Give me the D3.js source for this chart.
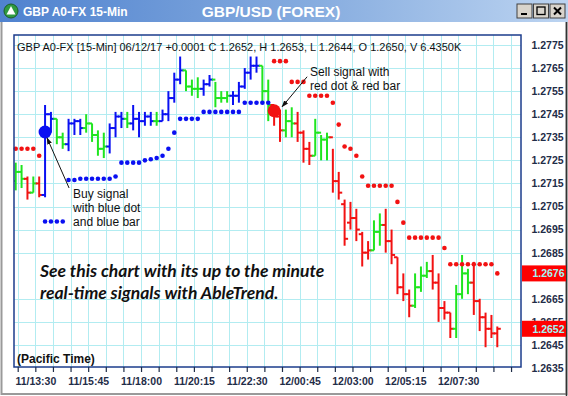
<!DOCTYPE html>
<html>
<head>
<meta charset="utf-8">
<script src="https://cdn.jsdelivr.net/npm/d3@7"></script>
<style>
  body { margin: 0; background: #fff; }
  svg { display: block; }
</style>
</head>
<body>
<div id="chart"></div>
<script>
// 15-min bars, index 0 = 11/12:45 (Pacific time)
const opens  = [1.2716,1.2720,1.2717,1.2711,1.2715,1.2710,1.2745,1.2743,1.2735,1.2732,
                1.2741,1.2742,1.2739,1.2741,1.2736,1.2730,1.2731,1.2739,1.2744,1.2743,
                1.2741,1.2743,1.2742,1.2744,1.2742,1.2742,1.2745,1.2752,1.2760,1.2764,
                1.2757,1.2756,1.2756,1.2758,1.2760,1.2752,1.2752,1.2753,1.2753,1.2757,
                1.2763,1.2766,1.2766,1.2755,1.2749,1.2744,1.2738,1.2742,1.2741,1.2737,
                1.2730,1.2727,1.2737,1.2734,1.2735,1.2716,1.2706,1.2698,1.2700,1.2693,
                1.2685,1.2686,1.2694,1.2697,1.2690,1.2683,1.2670,1.2667,1.2662,1.2670,
                1.2675,1.2677,1.2672,1.2661,1.2659,1.2652,1.2667,1.2676,1.2672,1.2664,
                1.2657,1.2652,1.2650];
const highs  = [1.2724,1.2723,1.2718,1.2718,1.2718,1.2749,1.2746,1.2743,1.2737,1.2743,
                1.2743,1.2743,1.2745,1.2741,1.2738,1.2737,1.2741,1.2746,1.2746,1.2746,
                1.2749,1.2746,1.2746,1.2746,1.2746,1.2747,1.2755,1.2763,1.2770,1.2764,
                1.2760,1.2761,1.2760,1.2762,1.2759,1.2755,1.2755,1.2755,1.2759,1.2765,
                1.2770,1.2770,1.2766,1.2760,1.2747,1.2747,1.2747,1.2748,1.2746,1.2738,
                1.2733,1.2743,1.2736,1.2737,1.2730,1.2720,1.2708,1.2707,1.2704,1.2694,
                1.2690,1.2699,1.2702,1.2704,1.2695,1.2683,1.2676,1.2669,1.2676,1.2679,
                1.2681,1.2684,1.2676,1.2664,1.2659,1.2671,1.2684,1.2678,1.2681,1.2665,
                1.2659,1.2658,1.2653];
const lows   = [1.2712,1.2713,1.2708,1.2711,1.2709,1.2709,1.2737,1.2732,1.2730,1.2729,
                1.2736,1.2736,1.2737,1.2733,1.2727,1.2726,1.2728,1.2735,1.2739,1.2739,
                1.2738,1.2735,1.2740,1.2740,1.2740,1.2742,1.2742,1.2750,1.2758,1.2755,
                1.2753,1.2752,1.2753,1.2757,1.2748,1.2750,1.2750,1.2749,1.2750,1.2756,
                1.2760,1.2763,1.2750,1.2742,1.2740,1.2733,1.2735,1.2735,1.2733,1.2724,
                1.2723,1.2727,1.2725,1.2725,1.2711,1.2708,1.2688,1.2695,1.2690,1.2679,
                1.2682,1.2686,1.2688,1.2685,1.2680,1.2667,1.2664,1.2657,1.2661,1.2668,
                1.2674,1.2669,1.2655,1.2656,1.2648,1.2648,1.2665,1.2667,1.2658,1.2651,
                1.2644,1.2648,1.2644];
const closes = [1.2720,1.2717,1.2711,1.2715,1.2710,1.2745,1.2743,1.2735,1.2732,1.2741,
                1.2742,1.2739,1.2741,1.2736,1.2730,1.2731,1.2739,1.2744,1.2743,1.2741,
                1.2743,1.2742,1.2744,1.2742,1.2742,1.2745,1.2752,1.2760,1.2764,1.2757,
                1.2756,1.2756,1.2758,1.2760,1.2752,1.2752,1.2753,1.2753,1.2757,1.2763,
                1.2766,1.2766,1.2755,1.2749,1.2744,1.2738,1.2742,1.2741,1.2737,1.2730,
                1.2727,1.2737,1.2734,1.2735,1.2716,1.2711,1.2691,1.2700,1.2695,1.2685,
                1.2686,1.2694,1.2697,1.2690,1.2684,1.2670,1.2667,1.2662,1.2670,1.2675,
                1.2677,1.2672,1.2661,1.2659,1.2652,1.2667,1.2676,1.2672,1.2664,1.2657,
                1.2652,1.2650,1.2652];
// trend colour of each bar: B = up, R = down, G = neutral
const trend = "GGRGRBBGGBBBGGGGBBBGBBBBGBBBBGGGBBGGGBBBBBGGRRGGRRRGGGRRRRRRRGGRRRRRGGGRRRRGGGRRRRR";

// stop dots [bar index, price]
const upStops = [[9,1.27165],[10,1.27165],[11,1.2717],[12,1.2717],[13,1.2717],[14,1.2717],[15,1.2717],
  [16,1.2717],[17,1.2718],[18,1.2724],[19,1.2724],[20,1.2724],[21,1.2724],[22,1.2725],[23,1.27255],
  [24,1.2726],[25,1.2727],[26,1.2730],[27,1.2737],[28,1.2743],[29,1.2743],[30,1.2743],[31,1.2743],
  [32,1.2746],[33,1.2746],[34,1.2746],[35,1.2746],[36,1.2746],[37,1.2746],[38,1.2746],
  [39,1.2750],[40,1.2750],[41,1.2750],[42,1.2750],[43,1.2750]];
const downStops = [[0,1.2730],[1,1.2730],[2,1.2730],[3,1.2730],[4,1.2727],
  [44,1.2768],[45,1.2768],[46,1.2768],[47,1.2759],[48,1.2759],[49,1.2759],
  [50,1.2753],[51,1.2753],[52,1.2753],[53,1.2753],[54,1.2750],[55,1.27405],[56,1.2731],
  [57,1.2730],[58,1.2727],[59,1.2718],[60,1.2714],[61,1.2714],[62,1.2714],[63,1.2714],
  [64,1.2714],[65,1.2707],[66,1.2698],[67,1.26915],[68,1.26915],[69,1.26915],[70,1.26915],
  [71,1.26915],[72,1.26915],[73,1.2687],[74,1.2680],[75,1.2680],[76,1.2680],[77,1.2680],
  [78,1.2680],[79,1.2680],[80,1.2680],[81,1.2680],[82,1.2676]];
const buySignal = [5, 1.27373];
const sellSignal = [44, 1.27465];

const priceTicks = [1.2775,1.2765,1.2755,1.2745,1.2735,1.2725,1.2715,1.2705,1.2695,1.2685,
                    1.2665,1.2655,1.2645,1.2635];
const timeLabels = ["11/13:30","11/15:45","11/18:00","11/20:15","11/22:30",
                    "12/00:45","12/03:00","12/05:15","12/07:30"];

const width = 568, height = 396;
const plot = { left: 14, right: 521, top: 35, bottom: 367 };
const colors = { B: "#0a10f2", G: "#1fe51f", R: "#f21212" };
const font = "Arial, 'Liberation Sans', sans-serif";

const x = d3.scaleLinear().domain([0, 82]).range([15.7, 497.3]);
const y = d3.scaleLinear().domain([1.2775, 1.2635]).range([45, 368]);

const svg = d3.select("#chart").append("svg")
    .attr("width", width)
    .attr("height", height)
    .style("font-family", font);

const defs = svg.append("defs");
const grad = defs.append("linearGradient").attr("id", "titleGrad");
grad.append("stop").attr("offset", "0%").attr("stop-color", "#4f82cf");
grad.append("stop").attr("offset", "55%").attr("stop-color", "#86acdf");
grad.append("stop").attr("offset", "100%").attr("stop-color", "#bcd4f1");
defs.append("marker")
    .attr("id", "arrow")
    .attr("viewBox", "0 0 10 10")
    .attr("refX", 9).attr("refY", 5)
    .attr("markerWidth", 7).attr("markerHeight", 7)
    .attr("orient", "auto")
  .append("path")
    .attr("d", "M0,1.5 L10,5 L0,8.5 Z")
    .attr("fill", "#111");
defs.append("clipPath").attr("id", "plotClip")
  .append("rect")
    .attr("x", plot.left).attr("y", plot.top)
    .attr("width", plot.right - plot.left).attr("height", plot.bottom - plot.top);

// window frame
svg.append("rect").attr("width", width).attr("height", height).attr("fill", "#fff");
svg.append("rect").attr("x", 1.5).attr("y", 1).attr("width", width - 3).attr("height", height - 3)
    .attr("fill", "none").attr("stroke", "#9a9a9a").attr("stroke-width", 2);
svg.append("line").attr("x1", 566.5).attr("x2", 566.5).attr("y1", 22).attr("y2", 396)
    .attr("stroke", "#333").attr("stroke-width", 1.5);

// title bar
svg.append("rect").attr("x", 0).attr("y", 0).attr("width", width).attr("height", 22)
    .attr("fill", "url(#titleGrad)");
svg.append("circle").attr("cx", 11).attr("cy", 11).attr("r", 7)
    .attr("fill", "#2f9a40").attr("stroke", "#1d5e28");
svg.append("path").attr("d", "M11,6 L15.5,14.5 L6.5,14.5 Z").attr("fill", "#fff");
svg.append("text").attr("x", 23).attr("y", 15.5)
    .attr("font-size", 12).attr("font-weight", "bold").attr("fill", "#fff")
    .text("GBP A0-FX 15-Min");
svg.append("text").attr("x", 271).attr("y", 16.5).attr("text-anchor", "middle")
    .attr("font-size", 15.5).attr("font-weight", "bold").attr("fill", "#fff")
    .text("GBP/USD (FOREX)");

// window buttons
const btns = svg.append("g");
["min", "max", "close"].forEach((b, i) => {
  const bx = 517 + i * 16.5, by = 4;
  btns.append("rect").attr("x", bx).attr("y", by).attr("width", 15).attr("height", 14)
      .attr("fill", "#d8d4cc").attr("stroke", "#404040");
  if (b === "min") btns.append("rect").attr("x", bx + 4).attr("y", by + 9).attr("width", 6).attr("height", 2).attr("fill", "#000");
  if (b === "max") btns.append("rect").attr("x", bx + 3.5).attr("y", by + 3).attr("width", 8).attr("height", 7.5)
      .attr("fill", "none").attr("stroke", "#000").attr("stroke-width", 1.3);
  if (b === "close") btns.append("path").attr("d", `M${bx+4},${by+3.5} L${bx+11},${by+10.5} M${bx+11},${by+3.5} L${bx+4},${by+10.5}`)
      .attr("stroke", "#000").attr("stroke-width", 2);
});

// grid
const grid = svg.append("g").attr("clip-path", "url(#plotClip)")
    .attr("stroke", "#b2ecf1").attr("stroke-width", 1);
const gridIdx = d3.range(0, 85, 3);
grid.selectAll(".vg").data(gridIdx).join("line")
    .attr("x1", d => Math.round(x(d) + 2) + 0.5).attr("x2", d => Math.round(x(d) + 2) + 0.5)
    .attr("y1", plot.top).attr("y2", plot.bottom);
grid.selectAll(".hg").data(priceTicks).join("line")
    .attr("y1", d => Math.round(y(d)) + 0.5).attr("y2", d => Math.round(y(d)) + 0.5)
    .attr("x1", plot.left).attr("x2", plot.right);

// header line
svg.append("text").attr("x", 17).attr("y", 51)
    .attr("font-size", 11).attr("fill", "#111")
    .text("GBP A0-FX [15-Min] 06/12/17  +0.0001 C 1.2652, H 1.2653, L 1.2644, O 1.2650, V 6.4350K");

// bars
const bars = svg.append("g").attr("clip-path", "url(#plotClip)");
const barData = d3.range(opens.length).map(i => ({
  i, o: opens[i], h: highs[i], l: lows[i], c: closes[i], t: trend[i]
}));
const bg = bars.selectAll("g").data(barData).join("g")
    .attr("stroke", d => colors[d.t]).attr("stroke-width", 2);
bg.append("line")
    .attr("x1", d => x(d.i)).attr("x2", d => x(d.i))
    .attr("y1", d => y(d.h)).attr("y2", d => y(d.l));
bg.append("line")
    .attr("x1", d => x(d.i) - 3.5).attr("x2", d => x(d.i))
    .attr("y1", d => y(d.o)).attr("y2", d => y(d.o));
bg.append("line")
    .attr("x1", d => x(d.i)).attr("x2", d => x(d.i) + 3.5)
    .attr("y1", d => y(d.c)).attr("y2", d => y(d.c));

// stop dots
svg.append("g").attr("fill", colors.B).selectAll("circle").data(upStops).join("circle")
    .attr("cx", d => x(d[0])).attr("cy", d => y(d[1])).attr("r", 2.3);
svg.append("g").attr("fill", colors.R).selectAll("circle").data(downStops).join("circle")
    .attr("cx", d => x(d[0])).attr("cy", d => y(d[1])).attr("r", 2.3);

// signal dots
svg.append("circle").attr("cx", x(buySignal[0])).attr("cy", y(buySignal[1])).attr("r", 6.5)
    .attr("fill", colors.B);
svg.append("circle").attr("cx", x(sellSignal[0])).attr("cy", y(sellSignal[1])).attr("r", 6.5)
    .attr("fill", colors.R);

// annotations
const bx0 = x(buySignal[0]), by0 = y(buySignal[1]);
svg.append("line").attr("x1", bx0 + 24).attr("y1", by0 + 56).attr("x2", bx0 + 2).attr("y2", by0 + 6)
    .attr("stroke", "#111").attr("stroke-width", 1).attr("marker-end", "url(#arrow)");
const buyText = svg.append("text").attr("font-size", 12).attr("fill", "#111");
["Buy signal", "with blue dot", "and blue bar"].forEach((s, i) => {
  buyText.append("tspan").attr("x", bx0 + 28).attr("y", by0 + 66 + i * 14).text(s);
});
svg.append("g").attr("fill", colors.B).selectAll("circle").data(d3.range(4)).join("circle")
    .attr("cx", d => bx0 + d * 5.9).attr("cy", by0 + 89.5).attr("r", 2.3);

const sx0 = x(sellSignal[0]), sy0 = y(sellSignal[1]);
svg.append("line").attr("x1", sx0 + 33).attr("y1", sy0 - 34).attr("x2", sx0 + 8).attr("y2", sy0 - 4)
    .attr("stroke", "#111").attr("stroke-width", 1).attr("marker-end", "url(#arrow)");
const sellText = svg.append("text").attr("font-size", 12).attr("fill", "#111");
["Sell signal with", "red dot & red bar"].forEach((s, i) => {
  sellText.append("tspan").attr("x", sx0 + 36).attr("y", sy0 - 35 + i * 14).text(s);
});

// promo text
const promo = svg.append("text").attr("font-family", "Lato, 'Open Sans', sans-serif")
    .attr("font-size", 17.5).attr("font-style", "italic").attr("font-weight", "bold").attr("fill", "#111");
promo.append("tspan").attr("x", 40).attr("y", 277).text("See this chart with its up to the minute");
promo.append("tspan").attr("x", 40).attr("y", 299).text("real-time signals with AbleTrend.");

svg.append("text").attr("x", 17).attr("y", 362.5)
    .attr("font-size", 12).attr("font-weight", "bold").attr("fill", "#111")
    .text("(Pacific Time)");

// plot border
svg.append("rect").attr("x", plot.left).attr("y", plot.top)
    .attr("width", plot.right - plot.left).attr("height", plot.bottom - plot.top)
    .attr("fill", "none").attr("stroke", "#1b3c8c").attr("stroke-width", 1.5);

// price axis
const yAxis = d3.axisRight(y).tickValues(priceTicks).tickSize(0).tickPadding(10.5)
    .tickFormat(d3.format(".4f"));
const ya = svg.append("g").attr("transform", `translate(${plot.right},0)`).call(yAxis);
ya.select(".domain").remove();
ya.selectAll("text").attr("font-size", 10.5).attr("font-weight", "bold")
    .attr("fill", "#1f2d48").attr("font-family", font);

// last stop and last close markers
const lastStop = downStops[downStops.length - 1][1];
const lastClose = closes[closes.length - 1];
[lastStop, lastClose].forEach(v => {
  const g = svg.append("g").attr("transform", `translate(${plot.right + 1},${y(v)})`);
  g.append("rect").attr("x", 0).attr("y", -8).attr("width", 44).attr("height", 16).attr("fill", "#ff0000");
  g.append("text").attr("x", 42.5).attr("y", 4).attr("text-anchor", "end")
      .attr("font-size", 10.5).attr("font-weight", "bold").attr("fill", "#9ff6f6")
      .text(d3.format(".4f")(v));
});

// time axis
const xAxis = d3.axisBottom(x).tickValues(gridIdx).tickSize(5).tickPadding(6)
    .tickFormat(d => (d >= 3 && (d - 3) % 9 === 0 && (d - 3) / 9 < timeLabels.length) ? timeLabels[(d - 3) / 9] : "");
const xa = svg.append("g").attr("transform", `translate(2,${plot.bottom})`).call(xAxis);
xa.select(".domain").remove();
xa.selectAll("line").attr("stroke", "#1f2d48").attr("stroke-width", 1.2);
xa.selectAll("text").attr("font-size", 10.5).attr("font-weight", "bold")
    .attr("fill", "#1f2d48").attr("font-family", font);
</script>
</body>
</html>
